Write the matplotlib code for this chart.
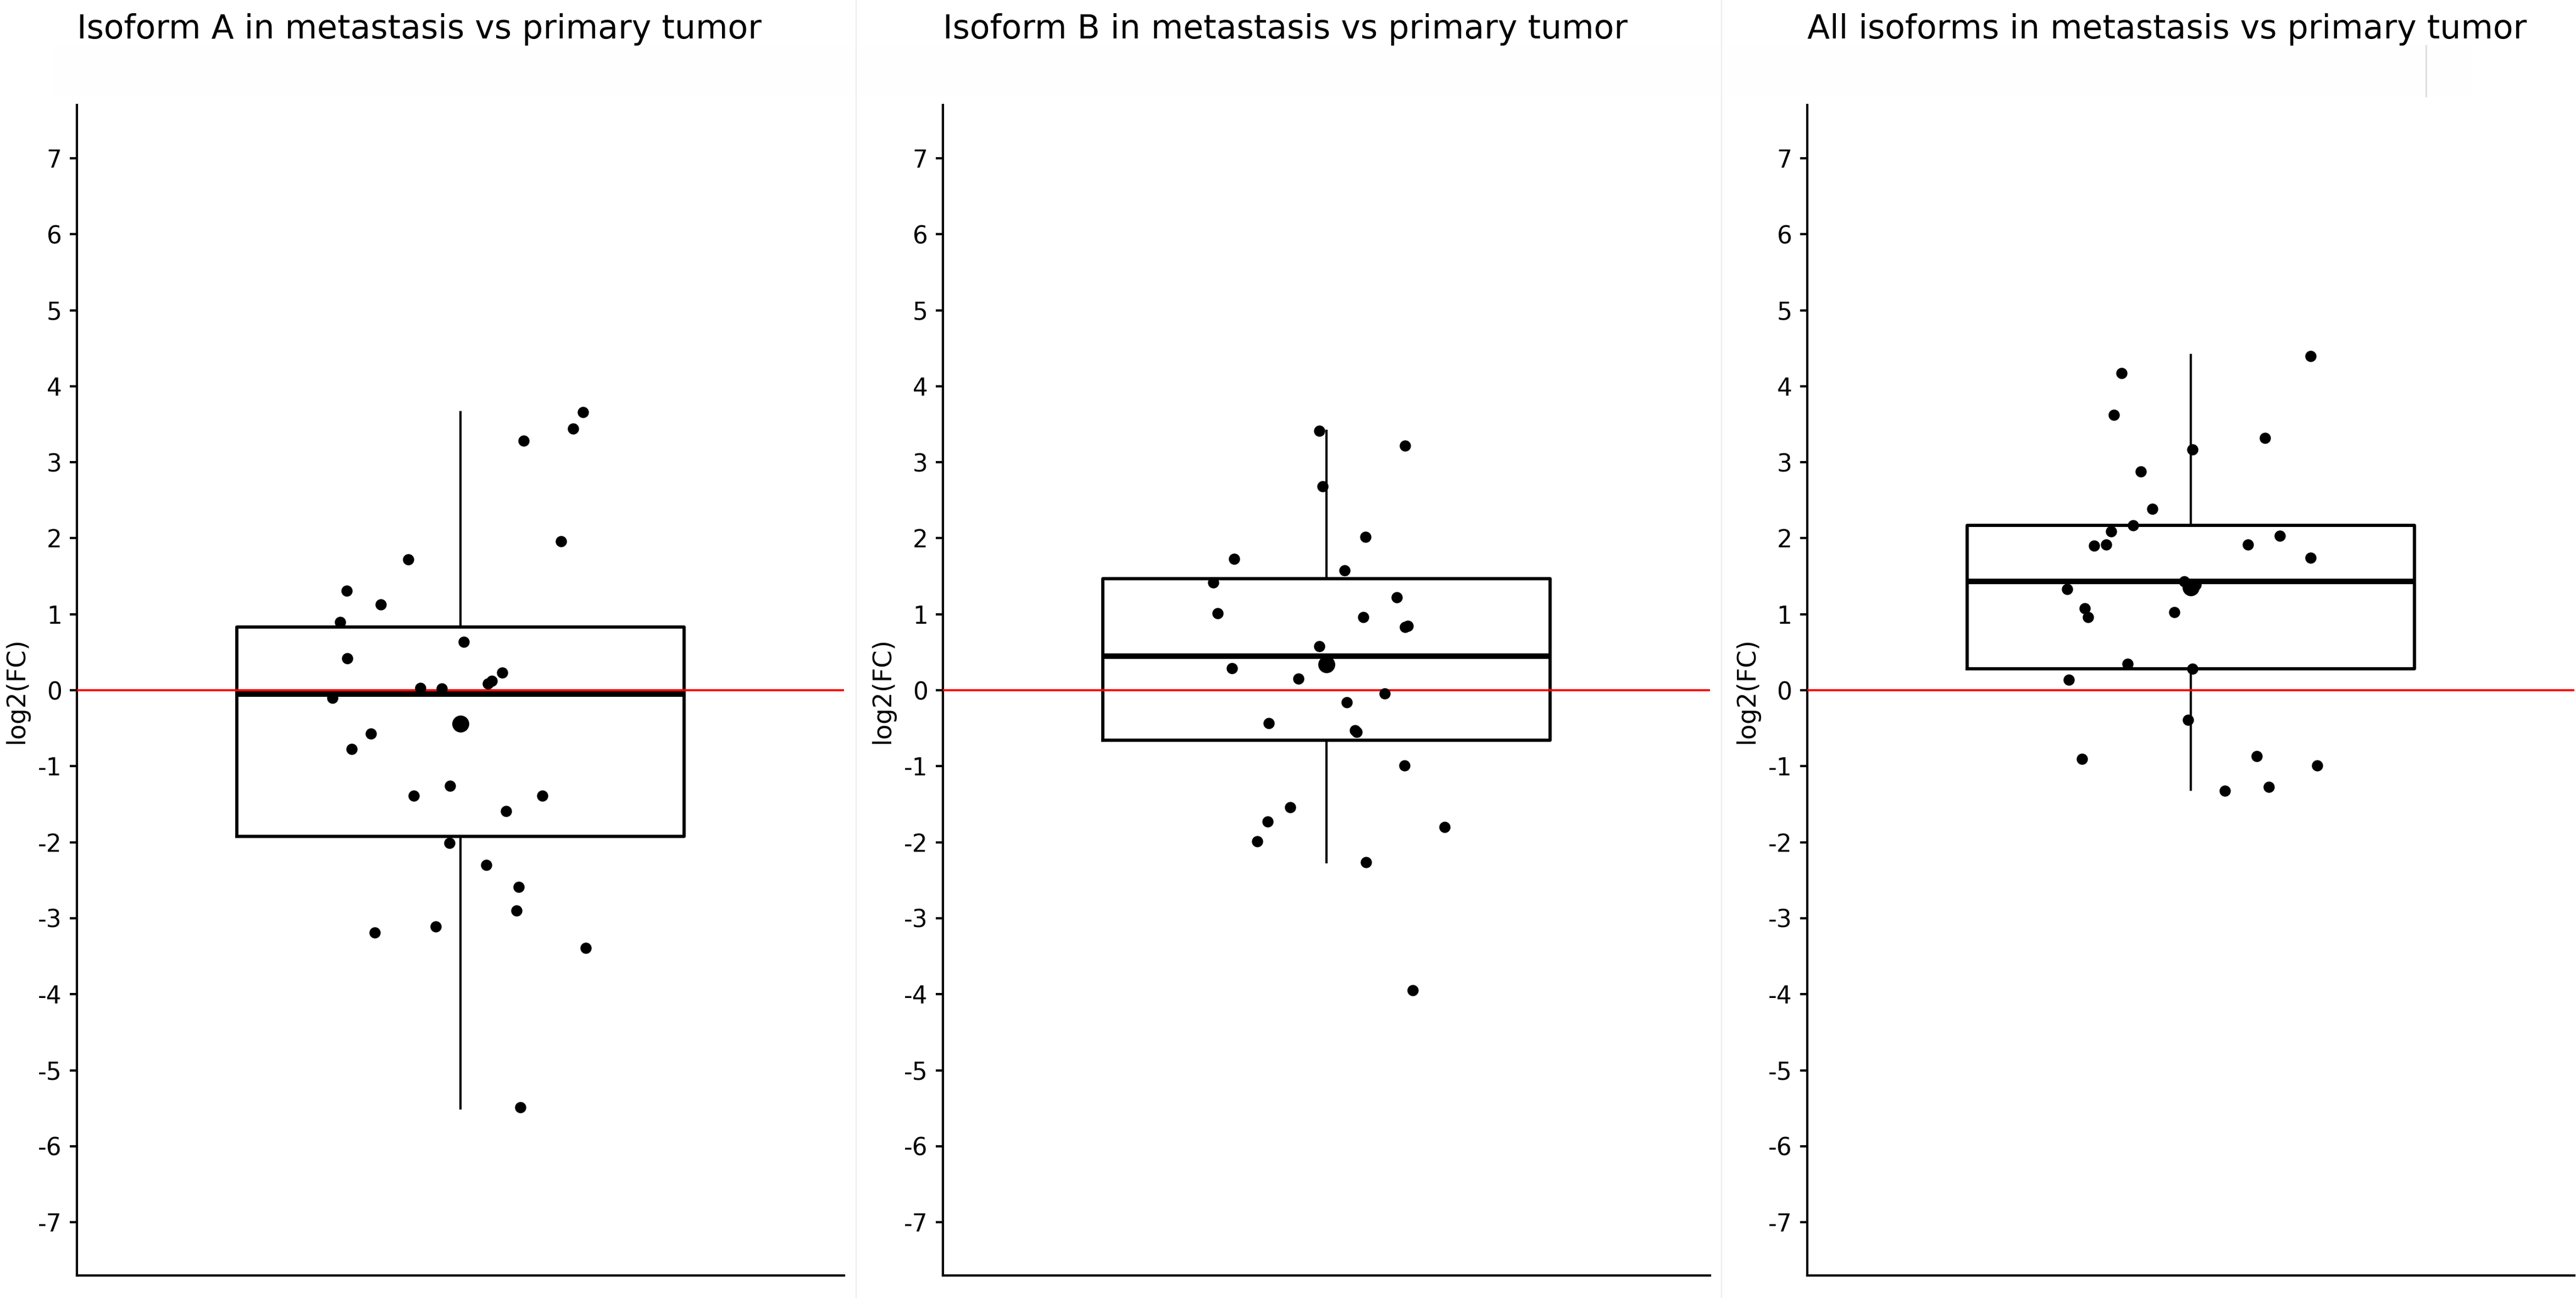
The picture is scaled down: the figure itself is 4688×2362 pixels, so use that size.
import matplotlib
matplotlib.use("Agg")
import matplotlib.pyplot as plt
from matplotlib.lines import Line2D
from matplotlib.patches import Rectangle

titles = [
    "Isoform A in metastasis vs primary tumor",
    "Isoform B in metastasis vs primary tumor",
    "All isoforms in metastasis vs primary tumor",
]
yticks = list(range(-7, 8))

# jittered points: log2(FC) values and horizontal offsets
iso_a_vals = [3.66, 3.44, 3.28, 1.96, 1.72, 1.31, 1.13, 0.90, 0.64, 0.42, 0.23,
              0.12, 0.09, 0.03, 0.02, -0.10, -0.57, -0.77, -1.26, -1.39, -1.39,
              -1.59, -2.01, -2.30, -2.59, -2.90, -3.11, -3.19, -3.39, -5.49]
iso_a_jit = [0.192, 0.176, 0.099, 0.157, -0.082, -0.178, -0.125, -0.188, 0.005,
             -0.177, 0.065, 0.049, 0.043, -0.063, -0.029, -0.200, -0.140, -0.170,
             -0.016, -0.073, 0.128, 0.071, -0.017, 0.040, 0.091, 0.088, -0.039,
             -0.134, 0.196, 0.094]

iso_b_vals = [3.41, 3.22, 2.68, 2.02, 1.73, 1.58, 1.42, 1.22, 1.01, 0.96, 0.85,
              0.83, 0.58, 0.29, 0.15, -0.04, -0.16, -0.43, -0.53, -0.55, -0.99,
              -1.54, -1.73, -1.80, -1.99, -2.26, -3.95]
iso_b_jit = [-0.011, 0.123, -0.006, 0.061, -0.144, 0.028, -0.177, 0.110, -0.170,
             0.058, 0.127, 0.123, -0.011, -0.148, -0.044, 0.091, 0.032, -0.090,
             0.045, 0.047, 0.122, -0.057, -0.092, 0.185, -0.108, 0.062, 0.135]

iso_all_vals = [4.40, 4.17, 3.62, 3.17, 3.32, 2.88, 2.39, 2.17, 2.09, 2.03, 1.92,
                1.92, 1.90, 1.74, 1.43, 1.39, 1.33, 1.08, 1.03, 0.96, 0.35, 0.28,
                0.14, -0.39, -0.87, -0.90, -0.99, -1.27, -1.32]
iso_all_jit = [0.187, -0.108, -0.120, 0.003, 0.116, -0.078, -0.060, -0.090, -0.125,
               0.139, 0.089, -0.132, -0.151, 0.187, -0.010, 0.008, -0.193, -0.166,
               -0.026, -0.161, -0.099, 0.003, -0.191, -0.004, 0.103, -0.170, 0.198,
               0.122, 0.053]

# box summaries: q1, median, q3, whisker low, whisker high, mean
q1 = [-1.92, -0.66, 0.28]
med = [-0.05, 0.45, 1.43]
q3 = [0.83, 1.47, 2.17]
whislo = [-5.50, -2.26, -1.31]
whishi = [3.66, 3.41, 4.41]
means = [-0.44, 0.34, 1.35]

vals = [iso_a_vals, iso_b_vals, iso_all_vals]
jits = [iso_a_jit, iso_b_jit, iso_all_jit]

W, H = 4688, 2362
fig = plt.figure(figsize=(W / 300, H / 300), dpi=300)

# faint background artefacts
fig.add_artist(Rectangle((96 / W, 1 - 175 / H), (4500 - 96) / W, 92 / H,
                         transform=fig.transFigure, facecolor="#fefefe",
                         edgecolor="none", zorder=0))
for xp in [1558, 3133]:
    fig.add_artist(Line2D([xp / W, xp / W], [0, 1], transform=fig.transFigure,
                          color="#ececec", lw=0.5, zorder=0))
fig.add_artist(Line2D([4415 / W, 4415 / W], [1 - 175 / H, 1 - 83 / H],
                      transform=fig.transFigure, color="#e0e0e0", lw=0.8, zorder=0))

lefts = [140, 1716, 3289]
for i in range(3):
    ax = fig.add_axes([lefts[i] / W, 0.01736, 1396 / W, 0.9017])
    ax.set_facecolor("none")
    stats = [dict(q1=q1[i], med=med[i], q3=q3[i], whislo=whislo[i],
                  whishi=whishi[i], fliers=[])]
    ax.bxp(stats, positions=[1], widths=0.7, showcaps=False, showfliers=False,
           patch_artist=False,
           boxprops=dict(color="black", lw=1.4),
           whiskerprops=dict(color="black", lw=1.0),
           medianprops=dict(color="black", lw=2.4))
    ax.axhline(0, color="#ff0000", lw=0.9, zorder=4)
    ax.scatter([1 + j for j in jits[i]], vals[i], s=24, color="black",
               linewidths=0, zorder=5)
    ax.scatter([1], [means[i]], s=55, color="black", linewidths=0, zorder=5)

    ax.set_xlim(0.4, 1.6)
    ax.set_ylim(-7.7, 7.7)
    ax.set_yticks(yticks)
    ax.set_yticklabels([str(t) for t in yticks], fontsize=10.5)
    ax.set_xticks([])
    for s in ["top", "right"]:
        ax.spines[s].set_visible(False)
    ax.spines["left"].set_linewidth(1.0)
    ax.spines["bottom"].set_linewidth(1.0)
    ax.tick_params(axis="y", length=3.1, width=1.0, pad=3.5)
    ax.set_ylabel("log2(FC)", fontsize=11)
    ax.yaxis.set_label_coords(-0.0623, 0.5)
    fig.text(lefts[i] / W, 1 - 70 / H, titles[i], fontsize=14.4, ha="left",
             va="baseline")

fig.savefig("out.png", dpi=300)
